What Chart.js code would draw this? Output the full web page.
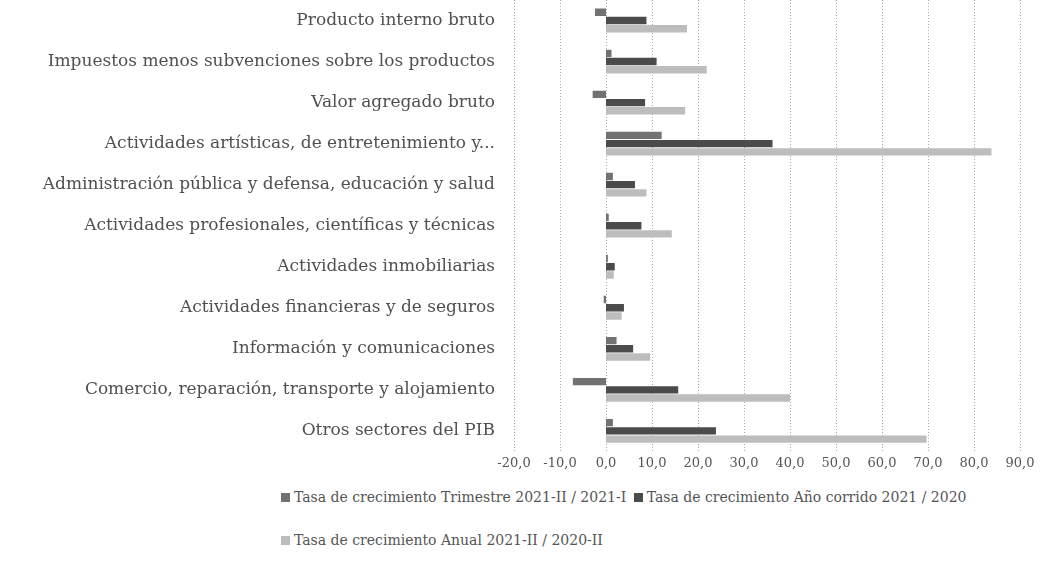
<!DOCTYPE html>
<html>
<head>
<meta charset="utf-8">
<script src="https://cdn.jsdelivr.net/npm/chart.js@4.4.1/dist/chart.umd.min.js"></script>
<style>
  body { margin: 0; background: #fff; }
  #wrap { position: relative; width: 1042px; height: 575px; }
  #box { position: absolute; left: 0; top: 0; width: 1042px; height: 475px; }
  #legend {
    position: absolute; left: 281px; top: 476px; width: 700px;
    font-family: "DejaVu Serif", serif; font-size: 14px; color: #555;
    line-height: 43px;
  }
  #legend span.item { white-space: nowrap; margin-right: 3px; }
  #legend i { display: inline-block; width: 9px; height: 9px; margin-right: 4px; }
</style>
</head>
<body>
<div id="wrap">
  <div id="box"><canvas id="chart"></canvas></div>
  <div id="legend"></div>
</div>
<script>
const categories = [
  "Producto interno bruto",
  "Impuestos menos subvenciones sobre los productos",
  "Valor agregado bruto",
  "Actividades artísticas, de entretenimiento y...",
  "Administración pública y defensa, educación y salud",
  "Actividades profesionales, científicas y técnicas",
  "Actividades inmobiliarias",
  "Actividades financieras y de seguros",
  "Información y comunicaciones",
  "Comercio, reparación, transporte y alojamiento",
  "Otros sectores del PIB"
];
const seriesNames = [
  "Tasa de crecimiento Trimestre 2021-II / 2021-I",
  "Tasa de crecimiento Año corrido 2021 / 2020",
  "Tasa de crecimiento Anual 2021-II / 2020-II"
];
const trimestre = [-2.4, 1.2, -2.9, 12.1, 1.5, 0.6, 0.4, -0.5, 2.3, -7.2, 1.5];
const anoCorrido = [8.8, 11.0, 8.5, 36.2, 6.3, 7.7, 1.9, 3.9, 5.9, 15.7, 23.9];
const anual = [17.6, 21.9, 17.2, 83.8, 8.8, 14.3, 1.7, 3.4, 9.6, 40.0, 69.7];
const xMin = -20, xMax = 90, xStep = 10;

const colors = ["#727272", "#4b4b4b", "#bdbdbd"];
const font = "'DejaVu Serif', serif";

const chart = new Chart(document.getElementById("chart"), {
  type: "bar",
  data: {
    labels: categories,
    datasets: [trimestre, anoCorrido, anual].map((d, i) => ({
      label: seriesNames[i],
      data: d,
      backgroundColor: colors[i],
      barPercentage: 0.9,
      categoryPercentage: 0.6
    }))
  },
  options: {
    indexAxis: "y",
    responsive: true,
    maintainAspectRatio: false,
    animation: false,
    layout: { padding: { left: 0, right: 22, top: 0, bottom: 0 } },
    plugins: {
      legend: { display: false },
      tooltip: { enabled: false }
    },
    scales: {
      x: {
        min: xMin, max: xMax,
        ticks: {
          stepSize: xStep,
          padding: 4,
          color: "#555",
          font: { family: font, size: 13 },
          callback: v => v.toFixed(1).replace(".", ",")
        },
        grid: { display: false, drawTicks: false },
        border: { display: false }
      },
      y: {
        // fixed width so the plot starts at -20; no extra top/bottom padding
        afterFit: s => { s.width = 514; s.paddingTop = 0; s.paddingBottom = 0; },
        ticks: {
          padding: 19,
          color: "#505050",
          font: { family: font, size: 17 }
        },
        grid: { display: false, drawTicks: false },
        border: { display: false }
      }
    }
  },
  plugins: [{
    // dotted vertical grid
    id: "dotGrid",
    beforeDatasetsDraw(c) {
      const { ctx, chartArea: a, scales: { x } } = c;
      ctx.save();
      ctx.strokeStyle = "#a8a8a8";
      ctx.lineWidth = 1;
      ctx.setLineDash([1, 2]);
      x.ticks.forEach(t => {
        const px = Math.round(x.getPixelForValue(t.value)) + 0.5;
        ctx.beginPath();
        ctx.moveTo(px, a.top);
        ctx.lineTo(px, a.bottom);
        ctx.stroke();
      });
      ctx.restore();
    }
  }]
});

document.getElementById("legend").innerHTML = chart.data.datasets.map(ds =>
  `<span class="item"><i style="background:${ds.backgroundColor}"></i>${ds.label}</span>`
).join(" ");
</script>
</body>
</html>
